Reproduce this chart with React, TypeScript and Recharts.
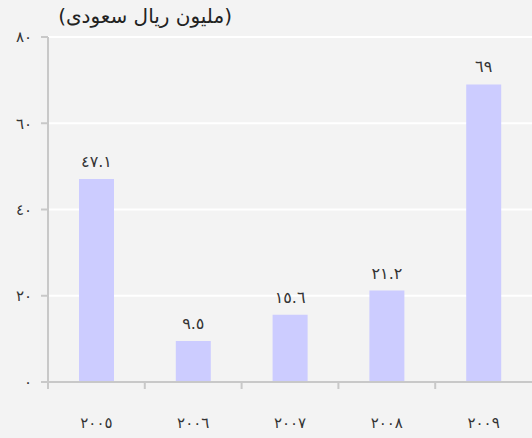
import React from "react";
import { BarChart, Bar, XAxis, YAxis, CartesianGrid, LabelList } from "recharts";

const categories = ["٢٠٠٥", "٢٠٠٦", "٢٠٠٧", "٢٠٠٨", "٢٠٠٩"];
const values = [47.1, 9.5, 15.6, 21.2, 69];
const yTicks = [0, 20, 40, 60, 80];
const title = "(مليون ريال سعودى)";

const data = categories.map((c, i) => ({ year: c, value: values[i] }));

const AR = "٠١٢٣٤٥٦٧٨٩";
const toArabic = (v: number | string) =>
  String(v).replace(/[0-9]/g, (d) => AR[Number(d)]);

const FONT = "'DejaVu Sans', sans-serif";
const AXIS = "#c8c8c8";

const XTick = (props: any) => {
  const { x, y, payload } = props;
  const off = payload && typeof payload.offset === "number" && payload.offset > 0 ? payload.offset : 48.4;
  return (
    <g>
      <line x1={x - off} x2={x - off} y1={y} y2={y + 7} stroke={AXIS} strokeWidth={2} />
      <text x={x} y={y + 46} textAnchor="middle" fontSize={15} fill="#333" fontFamily={FONT}>
        {payload.value}
      </text>
    </g>
  );
};

export default function App() {
  return (
    <div style={{ position: "absolute", left: 0, top: 0, width: 532, height: 438, background: "#f3f3f3", overflow: "hidden" }}>
      <div
        style={{
          position: "absolute",
          left: 0,
          top: 4,
          width: 232,
          textAlign: "right",
          direction: "rtl",
          fontFamily: FONT,
          fontSize: 20,
          lineHeight: "24px",
          color: "#222",
        }}
      >
        {title}
      </div>
      <BarChart width={532} height={438} data={data} margin={{ top: 37, right: 0, left: 0, bottom: 0 }}>
        <CartesianGrid vertical={false} stroke="#ffffff" strokeWidth={2} />
        <XAxis
          dataKey="year"
          height={56}
          tickLine={false}
          tickSize={0}
          tickMargin={0}
          axisLine={{ stroke: AXIS, strokeWidth: 2 }}
          tick={<XTick />}
          interval={0}
        />
        <YAxis
          width={48}
          domain={[0, 80]}
          ticks={yTicks}
          tickSize={7}
          tickMargin={9}
          tickLine={{ stroke: AXIS, strokeWidth: 2 }}
          axisLine={{ stroke: AXIS, strokeWidth: 2 }}
          tickFormatter={(v: number) => toArabic(v)}
          tick={{ fontSize: 15, fill: "#333", fontFamily: FONT }}
        />
        <Bar dataKey="value" fill="#ccccff" barSize={35} isAnimationActive={false}>
          <LabelList
            dataKey="value"
            position="top"
            offset={12}
            formatter={(v: any) => toArabic(v)}
            style={{ fontSize: 16, fill: "#333", fontFamily: FONT }}
          />
        </Bar>
      </BarChart>
    </div>
  );
}
